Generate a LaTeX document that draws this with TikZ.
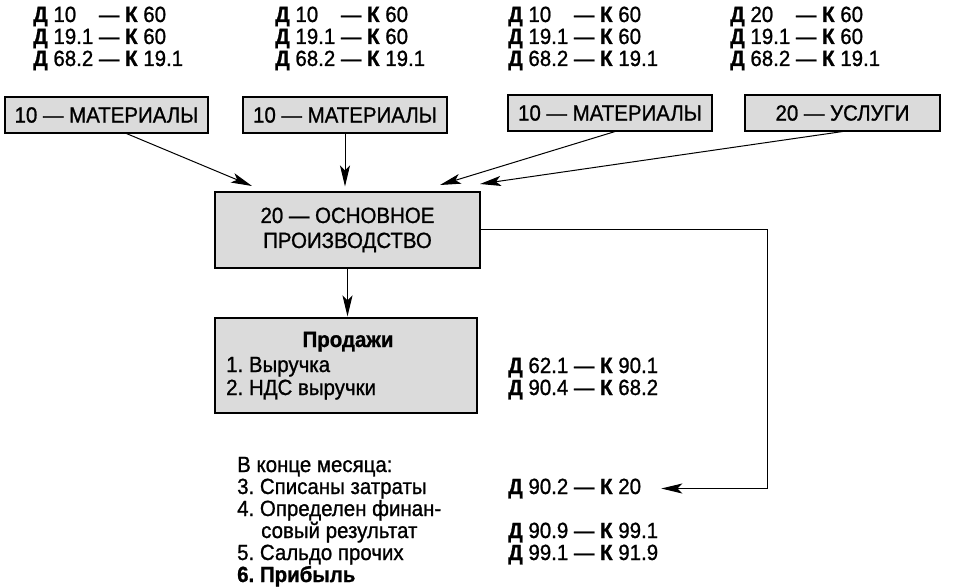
\documentclass[tikz,border=0pt]{standalone}
\usepackage{fontspec}
\setmainfont{Liberation Sans}[FakeStretch=0.93, FakeBold=1]
\usetikzlibrary{arrows.meta,calc}
\newcommand{\dk}[2]{\textbf{Д} #1 — \textbf{К} #2}
\begin{document}
\frenchspacing
\begin{tikzpicture}[x=1pt,y=-1pt,
  font=\fontsize{22}{23}\selectfont,
  box/.style={draw=black, line width=1.1pt, fill=black!14, inner sep=0pt},
  txt/.style={anchor=base west, inner sep=0pt},
  arr/.style={-{Stealth[length=21pt,width=10pt,inset=5pt]}, line width=1pt}]
\useasboundingbox (0,0) rectangle (956,588);

% top postings
\foreach \x/\n/\a in {33/1/10, 275/2/10, 508/3/10, 730/4/20}{
  \node[txt] (t\n a) at (\x,22) {\dk{\a\phantom{.1}}{60}};
  \node[txt] (t\n b) at (\x,44) {\dk{19.1}{60}};
  \node[txt] (t\n c) at (\x,66) {\dk{68.2}{19.1}};
}

% source boxes
\node[box, minimum width=203pt, minimum height=36pt] (b1) at (106.5,115) {10 — МАТЕРИАЛЫ};
\node[box, minimum width=204pt, minimum height=36pt] (b2) at (345,115) {10 — МАТЕРИАЛЫ};
\node[box, minimum width=204pt, minimum height=36pt] (b3) at (610,113) {10 — МАТЕРИАЛЫ};
\node[box, minimum width=195pt, minimum height=36pt] (b4) at (842.5,113) {20 — УСЛУГИ};

% main box
\node[box, minimum width=265pt, minimum height=76pt, align=center,
  font=\fontsize{22}{25}\selectfont] (main) at (347.5,230) {20 — ОСНОВНОЕ\\ПРОИЗВОДСТВО};

% sales box
\node[box, minimum width=262pt, minimum height=95pt] (sales) at (346,365.5) {};
\node[anchor=base, inner sep=0pt] (sh) at (348,347) {\textbf{Продажи}};
\node[txt] (s1) at (226,372) {1. Выручка};
\node[txt] (s2) at (226,395) {2. НДС выручки};
\node[txt] (r1) at (508,373) {\dk{62.1}{90.1}};
\node[txt] (r2) at (508,395) {\dk{90.4}{68.2}};

% month end
\node[txt] (m0) at (237,472) {В конце месяца:};
\node[txt] (m3) at (237,494) {3. Списаны затраты};
\node[txt] (m4) at (237,516) {4. Определен финан-};
\node[txt] (m4b) at (261,538) {совый результат};
\node[txt] (m5) at (237,560) {5. Сальдо прочих};
\node[txt] (m6) at (237,582) {\textbf{6. Прибыль}};
\node[txt] (k20) at (508,494) {\dk{90.2}{20}};
\node[txt] (k99) at (508,538) {\dk{90.9}{99.1}};
\node[txt] (k91) at (508,560) {\dk{99.1}{91.9}};

% connectors
\coordinate (tip1) at (252,186);
\coordinate (tip3) at (440,185);
\coordinate (tip4) at (480,184);
\coordinate (rc) at (767,0);
\draw[arr] ([xshift=20pt]b1.south) -- (tip1);
\draw[arr] (b2.south) -- ([yshift=5pt]b2.south |- main.north);
\draw[arr] ([xshift=5pt]b3.south) -- (tip3);
\draw[arr] (b4.south) -- (tip4);
\draw[arr] (main.south) -- ([yshift=1pt]main.south |- sales.north);
\draw[arr] (main.east) -- (main.east -| rc) |- ([xshift=20pt]k20.east);
\end{tikzpicture}
\end{document}
